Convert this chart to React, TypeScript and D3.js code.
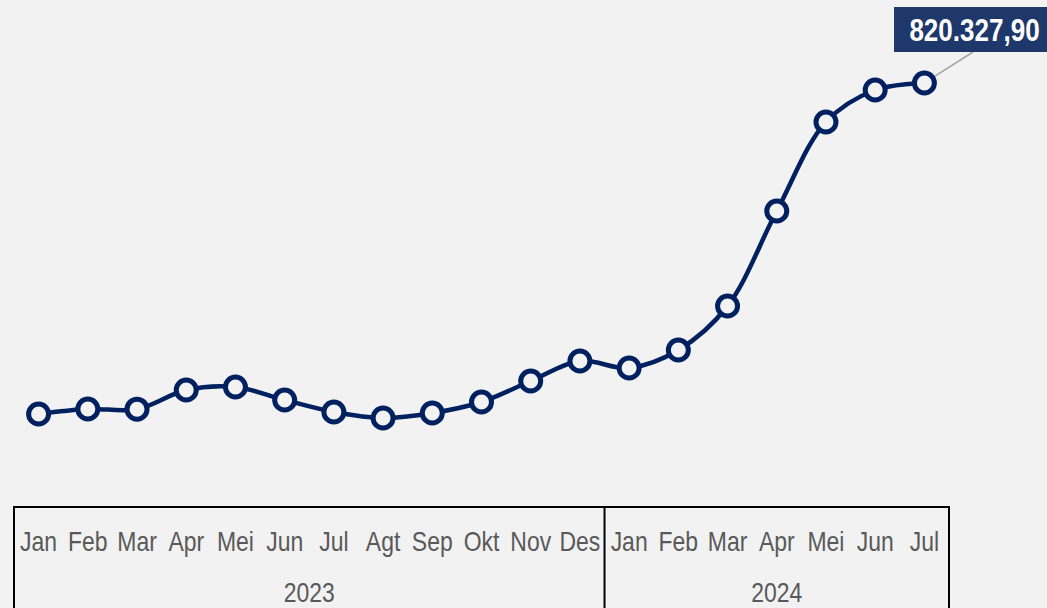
import React, { useEffect, useRef } from "react";
import * as d3 from "d3";

const months = ["Jan","Feb","Mar","Apr","Mei","Jun","Jul","Agt","Sep","Okt","Nov","Des","Jan","Feb","Mar","Apr","Mei","Jun","Jul"];
const years = ["2023","2023","2023","2023","2023","2023","2023","2023","2023","2023","2023","2023","2024","2024","2024","2024","2024","2024","2024"];
const values = [323800, 331300, 331000, 359800, 364300, 344800, 326800, 317800, 325300, 341800, 373300, 403300, 392800, 419800, 485800, 628300, 761800, 809800, 820327.90];
const lastLabel = "820.327,90";

const W = 1047, H = 608;
const FONT = "'Liberation Sans', Arial, sans-serif";
const NARROW = 0.82;

export default function App() {
  const ref = useRef<SVGSVGElement>(null);
  useEffect(() => {
    const svg = d3.select(ref.current);
    svg.selectAll("*").remove();
    svg.append("rect").attr("width", W).attr("height", H).attr("fill", "#f2f2f2");

    const idx = months.map((_, i) => i);
    const x = d3.scaleBand<number>().domain(idx).range([14, 949]);
    const cx = (i: number) => (x(i) as number) + x.bandwidth() / 2;
    const y = d3.scaleLinear().domain([250000, 850000]).range([463.2, 63.2]);

    // axis box
    const ax = svg.append("g").attr("stroke", "#000").attr("stroke-width", 2);
    ax.append("line").attr("x1", 13).attr("x2", 950).attr("y1", 507).attr("y2", 507);
    const groups = d3.groups(idx, (i) => years[i]);
    const bounds = [14];
    groups.forEach(([, arr]) => bounds.push((x(arr[arr.length - 1]) as number) + x.bandwidth()));
    bounds.forEach((b) => ax.append("line").attr("x1", b).attr("x2", b).attr("y1", 507).attr("y2", H));

    svg.append("g").selectAll("text").data(idx).join("text")
      .attr("transform", (i) => `translate(${cx(i)},551) scale(${NARROW},1)`)
      .attr("text-anchor", "middle").attr("font-family", FONT).attr("font-size", 28)
      .attr("fill", "#595959").text((i) => months[i]);

    svg.append("g").selectAll("text").data(groups).join("text")
      .attr("transform", ([, arr]) => `translate(${(cx(arr[0]) + cx(arr[arr.length - 1])) / 2},602) scale(${NARROW},1)`)
      .attr("text-anchor", "middle").attr("font-family", FONT).attr("font-size", 28)
      .attr("fill", "#595959").text(([k]) => k);

    const line = d3.line<number>().x((i) => cx(i)).y((i) => y(values[i])).curve(d3.curveCatmullRom.alpha(0.5));
    svg.append("path").attr("d", line(idx)).attr("fill", "none").attr("stroke", "#002060").attr("stroke-width", 4.5);

    // leader line
    const li = idx.length - 1;
    svg.append("line").attr("x1", cx(li)).attr("y1", y(values[li])).attr("x2", 973).attr("y2", 52)
      .attr("stroke", "#a6a6a6").attr("stroke-width", 1.5);

    svg.append("g").selectAll("circle").data(idx).join("circle")
      .attr("cx", (i) => cx(i)).attr("cy", (i) => y(values[i])).attr("r", 10)
      .attr("fill", "#f2f2f2").attr("stroke", "#002060").attr("stroke-width", 5);

    svg.append("rect").attr("x", 894).attr("y", 7).attr("width", 153).attr("height", 45).attr("fill", "#1f386b");
    svg.append("text").attr("transform", `translate(974.5,40.5) scale(0.84,1)`).attr("text-anchor", "middle")
      .attr("font-family", FONT).attr("font-weight", "bold").attr("font-size", 31).attr("fill", "#fff")
      .text(lastLabel);
  }, []);
  return <svg ref={ref} width={W} height={H} style={{ position: "absolute", left: 0, top: 0, display: "block" }} />;
}
